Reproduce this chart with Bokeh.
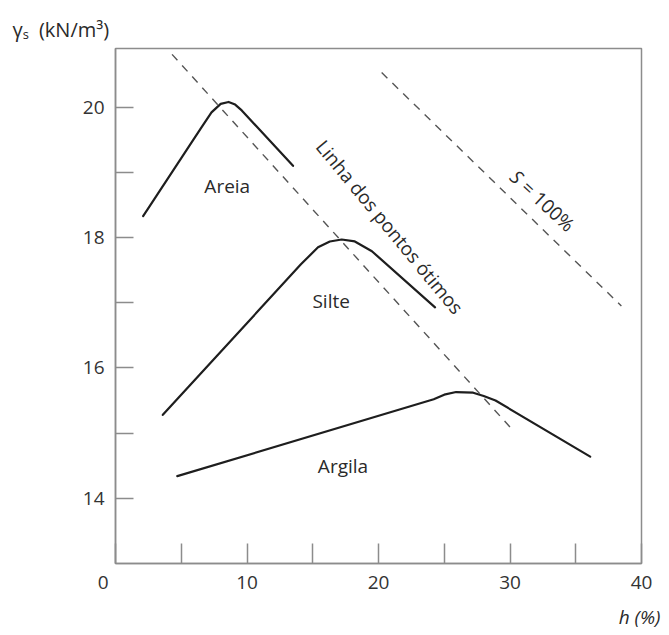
from bokeh.plotting import figure
from bokeh.models import Range1d, FixedTicker, Title
from bokeh.core.properties import value
from bokeh.embed import file_html
from bokeh.resources import INLINE

# ---- data ----
areia_h = [2.1, 6.5, 7.3, 8.0, 8.6, 9.1, 9.6, 13.5]
areia_g = [18.33, 19.68, 19.92, 20.05, 20.08, 20.04, 19.95, 19.10]

silte_h = [3.6, 14.1, 15.4, 16.3, 17.2, 18.2, 19.5, 24.3]
silte_g = [15.28, 17.59, 17.85, 17.94, 17.97, 17.94, 17.79, 16.93]

argila_h = [4.7, 24.2, 25.0, 25.9, 27.2, 28.0, 28.9, 36.1]
argila_g = [14.34, 15.52, 15.59, 15.63, 15.62, 15.57, 15.50, 14.64]

otimos_h = [4.3, 30.24]
otimos_g = [20.81, 15.04]

sat_h = [20.24, 38.47]
sat_g = [20.53, 16.95]

x_major = [0, 10, 20, 30, 40]
x_minor = [5, 15, 25, 35]
y_major = [14, 16, 18, 20]
y_minor = [15, 17, 19]

soil_names = ["Areia", "Silte", "Argila"]
soil_label_h = [8.5, 16.4, 17.3]
soil_label_g = [18.79, 17.03, 14.50]

FONT = "Open Sans"
FRAME = "#8c8c8c"
INK = "#1e1e1e"
TXT = "#2a2a2a"

p = figure(width=665, height=635, output_backend="svg", toolbar_location=None,
           x_range=Range1d(0, 40), y_range=Range1d(13, 20.9),
           min_border_left=115, min_border_right=24,
           min_border_top=48, min_border_bottom=72)
p.grid.visible = False
p.outline_line_color = FRAME
p.outline_line_width = 1.5
p.background_fill_color = "white"
p.border_fill_color = "white"

# axes
for ax in (p.xaxis[0], p.yaxis[0]):
    ax.axis_line_color = FRAME
    ax.axis_line_width = 1.5
    ax.major_tick_line_color = FRAME
    ax.minor_tick_line_color = FRAME
    ax.major_tick_line_width = 1.5
    ax.minor_tick_line_width = 1.5
    ax.major_tick_out = 0
    ax.minor_tick_out = 0
    ax.major_label_text_font = FONT
    ax.major_label_text_font_size = "19px"
    ax.major_label_text_color = "#333333"

p.xaxis.ticker = FixedTicker(ticks=x_major, minor_ticks=x_minor)
p.xaxis.major_tick_in = 20
p.xaxis.minor_tick_in = 20
p.xaxis.major_label_standoff = 5
# origin label sits left of the corner, as in the reference
p.xaxis.major_label_overrides = {0: "0\u2007\u2007\u2009"}

p.yaxis.ticker = FixedTicker(ticks=y_major, minor_ticks=y_minor)
p.yaxis.major_tick_in = 18
p.yaxis.minor_tick_in = 18
p.yaxis.major_label_standoff = 11

# curves
for hs, gs in ((areia_h, areia_g), (silte_h, silte_g), (argila_h, argila_g)):
    p.line(hs, gs, line_color=INK, line_width=2.2, line_join="round", line_cap="round")

# dashed lines
p.line(otimos_h, otimos_g, line_color="#555555", line_width=1.4, line_dash="8 7")
p.line(sat_h, sat_g, line_color="#555555", line_width=1.4, line_dash="8 7")

# soil labels
p.text(soil_label_h, soil_label_g, text=soil_names, text_font=value(FONT),
       text_font_size="19px", text_color=TXT,
       text_align="center", text_baseline="middle")

p.text([20.85], [18.16], text=["Linha dos pontos ótimos"], angle=-50.5, angle_units="deg",
       text_font=value(FONT), text_font_size="19px", text_color=TXT,
       text_align="center", text_baseline="middle")
# "S = 100%" with an italic S, along the saturation line
p.text([30.25], [18.98], text=["S"], angle=-43, angle_units="deg",
       text_font=value(FONT), text_font_size="19px", text_font_style="italic",
       text_color=TXT, text_align="left", text_baseline="middle")
p.text([31.11], [18.82], text=["= 100%"], angle=-43, angle_units="deg",
       text_font=value(FONT), text_font_size="19px", text_color=TXT,
       text_align="left", text_baseline="middle")

# y-axis title (top-left, horizontal)
p.add_layout(Title(text="γₛ\u2002(kN/m³)", align="left", offset=-103, standoff=11,
                   text_font=FONT, text_font_size="20px", text_font_style="normal",
                   text_color=TXT), "above")

# x-axis title (bottom-right)
p.add_layout(Title(text="h (%)", align="right", offset=-19, standoff=9,
                   text_font=FONT, text_font_size="19px", text_font_style="italic",
                   text_color=TXT), "below")

open("out.html", "w").write(file_html(p, INLINE))
